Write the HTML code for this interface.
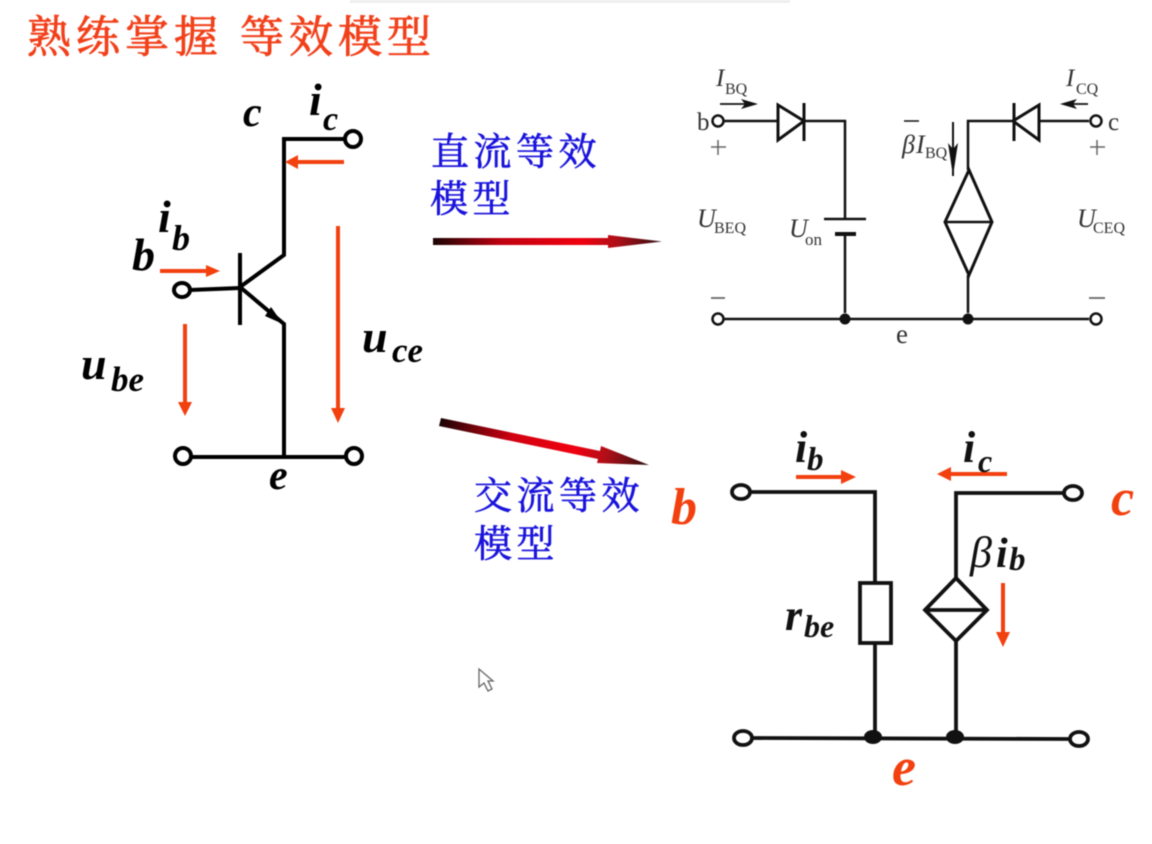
<!DOCTYPE html>
<html lang="zh">
<head>
<meta charset="utf-8">
<style>
html,body{margin:0;padding:0;background:#fff;width:1152px;height:844px;overflow:hidden}
svg{display:block;filter:blur(.55px)}
.cjk{font-family:"Liberation Serif","Noto Serif CJK SC",serif}
.t{font-family:"Liberation Serif",serif;font-style:italic;font-weight:bold}
.r{font-family:"Liberation Serif",serif}
.ri{font-family:"Liberation Serif",serif;font-style:italic}
</style>
</head>
<body>
<svg width="1152" height="844" viewBox="0 0 1152 844" xmlns="http://www.w3.org/2000/svg">
<defs>
<linearGradient id="g1" x1="433" y1="0" x2="662" y2="0" gradientUnits="userSpaceOnUse">
<stop offset="0" stop-color="#1a0505"/><stop offset=".3" stop-color="#c00010"/><stop offset=".65" stop-color="#f00010"/><stop offset=".8" stop-color="#b00f18"/><stop offset="1" stop-color="#301010"/>
</linearGradient>
<linearGradient id="g2" x1="440" y1="420" x2="648" y2="464" gradientUnits="userSpaceOnUse">
<stop offset="0" stop-color="#1a0505"/><stop offset=".35" stop-color="#d00010"/><stop offset=".65" stop-color="#f00010"/><stop offset=".8" stop-color="#b00f18"/><stop offset="1" stop-color="#301010"/>
</linearGradient>
</defs>
<rect width="1152" height="844" fill="#fff"/>
<rect x="350" y="0" width="440" height="3" fill="#eeeeee"/>

<!-- title -->
<g class="cjk" font-size="44" fill="#f2401a" stroke="#f2401a" stroke-width=".8">
<text x="27" y="52" letter-spacing="5">熟练掌握</text>
<text x="240" y="52" letter-spacing="5">等效模型</text>
</g>
<g class="cjk" font-size="38" fill="#1a14dc" stroke="#1a14dc" stroke-width=".6">
<text x="431" y="165" letter-spacing="4.5">直流等效</text>
<text x="430" y="212" letter-spacing="4.5">模型</text>
<text x="474" y="509" letter-spacing="4.5">交流等效</text>
<text x="474" y="557" letter-spacing="4.5">模型</text>
</g>

<!-- gradient arrows -->
<polygon points="433,238 608,238 608,235 662,241.500 608,248 608,245 433,245" fill="url(#g1)"/>
<polygon points="441,418 600,451 601,446 649,465 597,463 598,459 439,426" fill="url(#g2)"/>

<!-- transistor -->
<g fill="none" stroke="#000" stroke-width="4">
<path d="M345,139H284V255L240,287L284,324V457"/>
<path d="M190,290L240,288" />
<path d="M240,253V325" />
<path d="M191,457H346"/>
<circle cx="353" cy="139" r="8"/>
<ellipse cx="182" cy="290" rx="8" ry="7"/>
<circle cx="183" cy="456" r="8"/>
<circle cx="354" cy="456" r="8"/>
</g>
<polygon points="283,324 265,316 271,307" fill="#000"/>

<!-- orange arrows left -->
<g fill="#f2400f">
<rect x="160" y="269" width="46" height="4"/><polygon points="220,271 206,265 206,277"/>
<rect x="294" y="160" width="50" height="4"/><polygon points="285,162 298,155 298,169"/>
<rect x="183" y="324" width="4" height="80"/><polygon points="185,416 178,402 192,402"/>
<rect x="336" y="226" width="4" height="184"/><polygon points="338,423 331,408 345,408"/>
</g>

<g class="t" fill="#000">
<text x="243" y="126" font-size="42">c</text>
<text x="309" y="115" font-size="46">i</text>
<text x="323" y="130" font-size="34">c</text>
<text x="132" y="270" font-size="46">b</text>
<text x="158" y="232" font-size="46">i</text>
<text x="172" y="250" font-size="36">b</text>
<text x="81" y="379" font-size="46">u</text>
<text x="111" y="391" font-size="35">be</text>
<text x="362" y="352" font-size="46">u</text>
<text x="392" y="362" font-size="35">ce</text>
<text x="269" y="489" font-size="42">e</text>
</g>

<!-- DC model -->
<g fill="none" stroke="#111" stroke-width="2.500">
<path d="M724,121H778M804,121H845V220"/>
<path d="M845,236V313"/>
<path d="M1089,121H1039M1013,121H968V170"/>
<path d="M968,275V313"/>
<path d="M724,319H1089"/>
<polygon points="778,105 804,121 778,140" stroke-width="3"/>
<polygon points="1039,105 1013,121 1039,140" stroke-width="3"/>
<path d="M804,103V141M1014,103V141" stroke-width="3"/>
<circle cx="718" cy="121" r="5.500"/>
<circle cx="1096" cy="121" r="5.500"/>
<circle cx="718" cy="319" r="5.500"/>
<circle cx="1096" cy="319" r="5.500"/>
<polygon points="969,170 992,222 969,275 945,222" stroke-width="3"/>
<path d="M945,222H992"/>
<path d="M824,219H866" stroke-width="2.500"/>
<path d="M835,234H856" stroke-width="4"/>
<path d="M953,122V176" stroke-width="2"/>
<path d="M904,121H919" stroke-width="1.500"/>
<path d="M711,147H726" stroke="#666" stroke-width="1.500"/>
<path d="M718,140V155M1090,147H1105M1097,140V155" stroke="#666" stroke-width="1.500"/>
<path d="M711,298H725M1089,298H1105" stroke="#666" stroke-width="1.800"/>
<path d="M720,104H745M1064,104H1088" stroke-width="1.800"/>
</g>
<g fill="#111">
<circle cx="845" cy="319" r="5.500"/>
<circle cx="968" cy="319" r="5.500"/>
<polygon points="758,104 741,99 745,104 741,109"/>
<polygon points="1060,104 1077,99 1073,104 1077,109"/>
<polygon points="953,176 948,143 953,149 958,143"/>
</g>
<g fill="#333">
<text class="ri" x="716" y="86" font-size="25">I</text>
<text class="r" x="725" y="94" font-size="16">BQ</text>
<text class="ri" x="1066" y="86" font-size="25">I</text>
<text class="r" x="1076" y="94" font-size="16">CQ</text>
<text class="r" x="697" y="130" font-size="25">b</text>
<text class="r" x="1108" y="130" font-size="25">c</text>
<text class="ri" x="902" y="153" font-size="26">β</text>
<text class="ri" x="916" y="153" font-size="26">I</text>
<text class="r" x="925" y="158" font-size="16">BQ</text>
<text class="ri" x="697" y="227" font-size="26">U</text>
<text class="r" x="714" y="233" font-size="16">BEQ</text>
<text class="ri" x="789" y="237" font-size="26">U</text>
<text class="r" x="805" y="245" font-size="17">on</text>
<text class="ri" x="1077" y="227" font-size="26">U</text>
<text class="r" x="1093" y="233" font-size="16">CEQ</text>
<text class="r" x="896" y="343" font-size="27">e</text>
</g>

<!-- AC model -->
<g fill="none" stroke="#111" stroke-width="3.800">
<path d="M750,492H875V583M875,643V738"/>
<path d="M1066,493H956V578M956,641V738"/>
<path d="M751,738L1070,739"/>
<rect x="860" y="583" width="31" height="60"/>
<polygon points="956,578 987,610 956,641 925,610"/>
<path d="M925,610H987"/>
<ellipse cx="741" cy="492" rx="9" ry="7"/>
<ellipse cx="1073" cy="493" rx="9" ry="7"/>
<ellipse cx="743" cy="738" rx="9" ry="7"/>
<ellipse cx="1079" cy="739" rx="9" ry="7"/>
</g>
<g fill="#111">
<ellipse cx="873" cy="737" rx="9" ry="7"/>
<ellipse cx="955" cy="737" rx="9" ry="7"/>
</g>
<g fill="#f2400f">
<rect x="796" y="475" width="48" height="4"/><polygon points="856,477 841,470 841,484"/>
<rect x="948" y="472" width="59" height="4"/><polygon points="937,474 951,467 951,481"/>
<rect x="1001" y="583" width="4" height="50"/><polygon points="1003,647 996,632 1010,632"/>
</g>
<g class="t" fill="#111">
<text x="795" y="462" font-size="44">i</text>
<text x="807" y="470" font-size="33">b</text>
<text x="963" y="462" font-size="44">i</text>
<text x="978" y="472" font-size="32">c</text>
<text x="970" y="567" font-size="44" font-weight="normal">β</text>
<text x="996" y="567" font-size="42">i</text>
<text x="1009" y="570" font-size="33">b</text>
<text x="785" y="630" font-size="44">r</text>
<text x="804" y="637" font-size="32">be</text>
</g>
<g class="t" fill="#f2400f">
<text x="671" y="524" font-size="52">b</text>
<text x="1111" y="515" font-size="52">c</text>
<text x="892" y="785" font-size="54">e</text>
</g>

<!-- cursor -->
<polygon points="479,669 479,687 484,683 488,691 492,689 488,681 493,681" fill="#fff" stroke="#666" stroke-width="1.300"/>
</svg>
</body>
</html>
